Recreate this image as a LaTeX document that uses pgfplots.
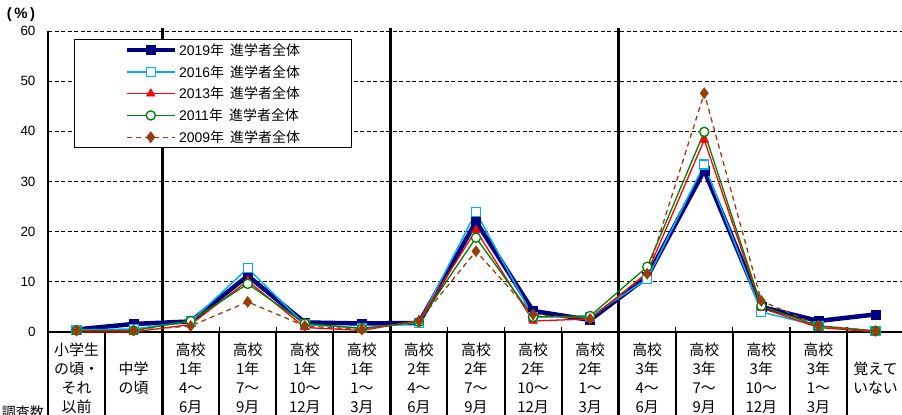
\documentclass[border=0pt]{standalone}
\usepackage{pgfplots}
\pgfplotsset{compat=1.18}
\usepackage{fontspec}
\setmainfont{Noto Sans CJK JP}
\newfontfamily\lib{Liberation Sans}
\definecolor{c19}{RGB}{0,0,128}
\definecolor{c16}{RGB}{0,176,240}
\definecolor{c13}{RGB}{255,0,0}
\definecolor{c11}{RGB}{0,128,0}
\definecolor{c09}{RGB}{153,60,10}
\begin{document}
\begin{tikzpicture}
\begin{axis}[
  at={(48bp,83bp)}, anchor=south west,
  scale only axis, width=856bp, height=301bp,
  xmin=-0.5, xmax=14.5, ymin=0, ymax=60,
  clip=false,
  axis x line*=bottom, axis y line*=left,
  axis line style={-, black, line width=1.5bp},
  ytick={0,10,...,60},
  ymajorgrids,
  major grid style={black, line width=0.9bp, dash pattern=on 4bp off 2.5bp},
  major tick length=0,
  yticklabel style={font=\lib\fontsize{13.5}{15}\selectfont, xshift=-9bp},
  /pgf/number format/assume math mode=true,
  xtick={0,...,14},
  xticklabels={
    {小学生\\の頃・\\それ\\以前},
    {\vphantom{高}\\中学\\の頃},
    {高校\\1年\\4～\\6月},
    {高校\\1年\\7～\\9月},
    {高校\\1年\\10～\\12月},
    {高校\\1年\\1～\\3月},
    {高校\\2年\\4～\\6月},
    {高校\\2年\\7～\\9月},
    {高校\\2年\\10～\\12月},
    {高校\\2年\\1～\\3月},
    {高校\\3年\\4～\\6月},
    {高校\\3年\\7～\\9月},
    {高校\\3年\\10～\\12月},
    {高校\\3年\\1～\\3月},
    {\vphantom{高}\\覚えて\\いない}},
  xticklabel style={font=\fontsize{15}{19}\selectfont, align=center, anchor=north, inner sep=0pt, yshift=-10.5bp},
  extra x ticks={0.5,1.5,...,13.5},
  extra x tick labels={},
  extra x tick style={major tick length=5bp, tick align=inside, tick style={black, line width=1.3bp}},
  legend style={at={(0.0304,0.9734)}, anchor=north west, draw=black, line width=1bp,
    inner xsep=50bp, inner ysep=2bp, font=\fontsize{14}{15}\selectfont, row sep=4.5bp,
    cells={anchor=west}},
  legend image code/.code={\draw[mark repeat=2,mark phase=2,#1] plot coordinates {(0bp,0bp) (24bp,0bp) (48bp,0bp)};},
]
% table separators
\foreach \b in {-0.5,0.5,...,14.5}{
  \edef\tmp{\noexpand\draw[black, line width=2bp] (axis cs:\b,0) -- (axis cs:\b,-17);}\tmp
}
\foreach \b in {1.5,5.5,9.5}{
  \edef\tmp{\noexpand\draw[black, line width=3bp] (axis cs:\b,60.6) -- (axis cs:\b,-17);}\tmp
}
\addplot[c19, line width=4.5bp, mark=square*, mark size=4.5bp, mark options={solid, line width=0.5bp, fill=c19}]
  coordinates {(0,0.5)(1,1.6)(2,2.1)(3,11.2)(4,1.9)(5,1.7)(6,1.8)(7,22.0)(8,4.2)(9,2.4)(10,11.0)(11,32.2)(12,5.0)(13,2.2)(14,3.5)};
\addlegendentry{{\lib 2019}年\ \ 進学者全体}
\addplot[c16, line width=1.5bp, mark=square*, mark size=4.5bp, mark options={solid, line width=1.2bp, fill=white}]
  coordinates {(0,0.4)(1,0.6)(2,2.1)(3,12.7)(4,1.5)(5,0.8)(6,1.8)(7,23.9)(8,3.0)(9,3.0)(10,10.6)(11,33.4)(12,4.0)(13,1.2)(14,0.2)};
\addlegendentry{{\lib 2016}年\ \ 進学者全体}
\addplot[c13, line width=1.3bp, mark=triangle*, mark size=5bp, mark options={solid, line width=0.5bp, fill=c13}]
  coordinates {(0,0.0)(1,0.0)(2,1.5)(3,10.2)(4,0.9)(5,0.3)(6,2.3)(7,20.3)(8,2.2)(9,2.6)(10,11.8)(11,38.3)(12,4.8)(13,0.9)(14,0.0)};
\addlegendentry{{\lib 2013}年\ \ 進学者全体}
\addplot[c11, line width=1.3bp, mark=*, mark size=4.6bp, mark options={solid, line width=1.3bp, fill=white}]
  coordinates {(0,0.3)(1,0.3)(2,2.2)(3,9.6)(4,1.7)(5,0.7)(6,2.0)(7,18.8)(8,3.0)(9,3.2)(10,13.0)(11,39.9)(12,5.2)(13,1.2)(14,0.2)};
\addlegendentry{{\lib 2011}年\ \ 進学者全体}
\addplot[c09, line width=1.3bp, dash pattern=on 5bp off 4bp, mark=diamond*, mark size=5.5bp, mark options={solid, line width=0.5bp, fill=c09}]
  coordinates {(0,0.3)(1,0.3)(2,1.2)(3,6.0)(4,1.2)(5,0.5)(6,2.2)(7,16.1)(8,3.5)(9,2.6)(10,11.6)(11,47.6)(12,6.2)(13,1.3)(14,0.2)};
\addlegendentry{{\lib 2009}年\ \ 進学者全体}
\end{axis}
\node[font=\lib\bfseries\fontsize{15}{17}\selectfont, inner sep=0pt] at (21bp,400bp) {(\,\%\,)};
\node[font=\fontsize{14}{16}\selectfont, inner sep=0pt, anchor=north east] at (44bp,9bp) {調査数};
\pgfresetboundingbox
\useasboundingbox (0,0) rectangle (902bp,415bp);
\end{tikzpicture}
\end{document}
